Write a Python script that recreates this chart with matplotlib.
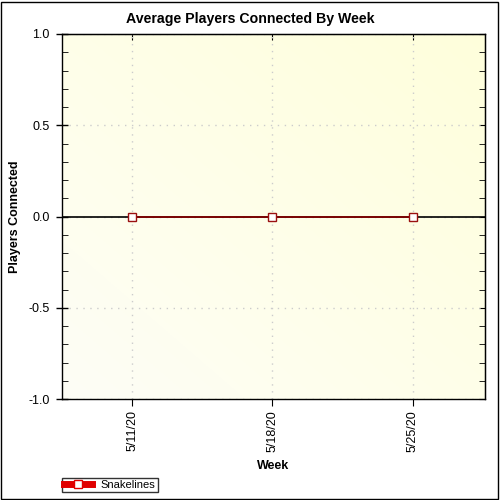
import numpy as np
import matplotlib.pyplot as plt
from matplotlib.ticker import MultipleLocator
from matplotlib.patches import Rectangle

plt.rcParams['font.family'] = ['Liberation Sans', 'DejaVu Sans']

weeks = ['5/11/20', '5/18/20', '5/25/20']
days = [0, 7, 14]
players = [0.0, 0.0, 0.0]

fig = plt.figure(figsize=(5, 5), dpi=100)
ax = fig.add_axes([62/500, 1 - 399/500, (485-62)/500, (399-34)/500])

# soft gradient: whitish bottom-left to light yellow top-right
gx, gy = np.meshgrid(np.linspace(0, 1, 200), np.linspace(0, 1, 200))
g = ((1 - gx) + gy) / 2
c_tr = np.array([1.0, 1.0, 0.86])
c_bl = np.array([0.995, 0.995, 0.965])
img = c_tr[None, None, :] * (1 - g[..., None]) + c_bl[None, None, :] * g[..., None]
ax.imshow(img, extent=[-3.5, 17.6, -1, 1], aspect='auto', zorder=0)

ax.axhline(0, color='black', lw=1.2, zorder=2)
ax.plot(days, players, color='#8b0000', lw=1.2, marker='s', ms=5.5,
        mfc='white', mec='#9a1010', mew=1, zorder=3, label='Snakelines')

ax.set_xlim(-3.5, 17.6)
ax.set_ylim(-1, 1)
ax.set_xticks(days)
ax.set_xticklabels(weeks, rotation=90, fontsize=9)
ax.yaxis.set_minor_locator(MultipleLocator(0.1))
ax.set_yticks([-1, -0.5, 0, 0.5, 1])
ax.set_yticklabels(['-1.0', '-0.5', '0.0', '0.5', '1.0'], fontsize=9)
ax.tick_params(axis='y', which='major', direction='inout', length=8, width=1, pad=5)
ax.tick_params(axis='y', which='minor', direction='in', length=4)
ax.tick_params(axis='x', which='major', direction='out', length=5, pad=3)
ax.grid(True, which='major', color='#cccccc', ls=(0, (1, 4)), lw=1)

# inward ticks on the top and right frame
top = ax.secondary_xaxis('top')
top.set_xticks(days)
top.tick_params(direction='in', length=4, labeltop=False)
right = ax.secondary_yaxis('right')
right.yaxis.set_minor_locator(MultipleLocator(0.1))
right.set_yticks([-1, -0.5, 0, 0.5, 1])
right.tick_params(which='both', direction='in', length=4, labelright=False)

for s in ax.spines.values():
    s.set_linewidth(1)

ax.set_xlabel('Week', fontsize=9, fontweight='bold', labelpad=6)
ax.set_ylabel('Players Connected', fontsize=9, fontweight='bold', labelpad=5)
fig.suptitle('Average Players Connected By Week', fontsize=10.2,
             fontweight='bold', y=0.975)

leg = fig.legend(handles=[ax.lines[-1]], loc='lower left',
                 bbox_to_anchor=(62/500, 1 - 492/500), fontsize=8,
                 frameon=True, fancybox=False, borderpad=0.2,
                 handlelength=2.5, borderaxespad=0)
leg.get_frame().set_edgecolor('black')
leg.get_frame().set_linewidth(1)
h = leg.legend_handles[0]
h.set_color('#e00000')
h.set_linewidth(5)
h.set_markerfacecolor('white')
h.set_markeredgecolor('#e00000')

fig.patches.append(Rectangle((0.002, 0.002), 0.994, 0.994, transform=fig.transFigure,
                             fill=False, edgecolor='black', lw=1))

fig.savefig('out.png', dpi=100)
